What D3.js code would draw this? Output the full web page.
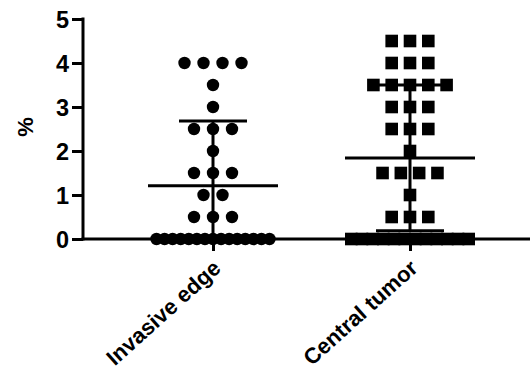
<!DOCTYPE html>
<html>
<head>
<meta charset="utf-8">
<script src="https://cdn.jsdelivr.net/npm/d3@7"></script>
<style>
  html, body { margin: 0; padding: 0; background: #fff; }
  svg { display: block; }
  text { font-family: Arial, "Liberation Sans", Helvetica, sans-serif; font-weight: bold; fill: #000; }
</style>
</head>
<body>
<svg id="chart" width="530" height="377"></svg>
<script>
// Groups along the x axis
const categories = ["Invasive edge", "Central tumor"];

// Individual measurements (%) for each group
const invasiveEdge = [
  0, 0, 0, 0, 0, 0, 0, 0, 0, 0, 0, 0, 0, 0, 0,
  0.5, 0.5, 0.5,
  1, 1,
  1.5, 1.5, 1.5,
  2,
  2.5, 2.5, 2.5,
  3,
  3.5,
  4, 4, 4, 4
];
const centralTumor = [
  0, 0, 0, 0, 0, 0, 0, 0, 0, 0, 0, 0,
  0.5, 0.5, 0.5,
  1,
  1.5, 1.5, 1.5, 1.5,
  2,
  2.5, 2.5, 2.5,
  3, 3, 3,
  3.5, 3.5, 3.5, 3.5, 3.5,
  4, 4, 4,
  4.5, 4.5, 4.5
];
const seriesValues = [invasiveEdge, centralTumor];
const symbols = ["circle", "square"];

// Axis ticks and title
const yTicks = [0, 1, 2, 3, 4, 5];
const yTitle = "%";

const svg = d3.select("#chart");

const plot = { left: 83, right: 530, top: 19, bottom: 239 };

const y = d3.scaleLinear().domain([0, 5]).range([plot.bottom, plot.top]);
const x = d3.scalePoint().domain(categories).range([213, 410]);

// Horizontal spacing of points within a row, and widest allowed row
const pointStep = [19, 18.3];
const rowHalfWidth = [56.5, 58.7];
const meanHalfWidth = 65;
const capHalfWidth = 34;

const axisStroke = 3;

// Y axis
const yAxis = svg.append("g")
  .attr("transform", `translate(${plot.left},0)`)
  .call(d3.axisLeft(y).tickValues(yTicks).tickFormat(d3.format("d")).tickSize(11).tickPadding(3));
yAxis.select(".domain").remove();
yAxis.selectAll(".tick line").attr("stroke", "#000").attr("stroke-width", axisStroke);
yAxis.selectAll(".tick text")
  .style("font-size", "23.5px")
  .style("font-family", "Arial, 'Liberation Sans', sans-serif")
  .style("font-weight", "bold")
  .attr("fill", "#000")
  .attr("dy", "0.36em");
svg.append("line")
  .attr("x1", plot.left).attr("x2", plot.left)
  .attr("y1", plot.top - 1.5).attr("y2", plot.bottom + 1.5)
  .attr("stroke", "#000").attr("stroke-width", axisStroke);

// Y title
svg.append("text")
  .attr("transform", `translate(33,127) rotate(-90)`)
  .attr("text-anchor", "middle")
  .style("font-size", "22px")
  .text(yTitle);

// X axis
const xAxis = svg.append("g")
  .attr("transform", `translate(0,${plot.bottom})`)
  .call(d3.axisBottom(x).tickSize(12).tickFormat(""));
xAxis.select(".domain").remove();
xAxis.selectAll(".tick line").attr("stroke", "#000").attr("stroke-width", axisStroke);
svg.append("line")
  .attr("x1", plot.left - 1.5).attr("x2", plot.right)
  .attr("y1", plot.bottom).attr("y2", plot.bottom)
  .attr("stroke", "#000").attr("stroke-width", axisStroke);

// Category labels, rotated
svg.selectAll(".cat-label")
  .data(categories)
  .join("text")
  .attr("class", "cat-label")
  .attr("text-anchor", "end")
  .attr("transform", d => `translate(${x(d) + 9},270) rotate(-42)`)
  .style("font-size", "22px")
  .text(d => d);

// Lay out points of each group in rows of equal value
function layout(values, gi) {
  const rows = d3.group(values, v => v);
  const pts = [];
  for (const [v, arr] of rows) {
    const n = arr.length;
    const step = n > 1 ? Math.min(pointStep[gi], (2 * rowHalfWidth[gi]) / (n - 1)) : 0;
    arr.forEach((_, i) => {
      pts.push({ value: v, dx: (i - (n - 1) / 2) * step });
    });
  }
  return pts;
}

seriesValues.forEach((values, gi) => {
  const cx = x(categories[gi]);
  const mean = d3.mean(values);
  const sd = d3.deviation(values);
  const hi = mean + sd;
  const lo = Math.max(0, mean - sd);
  const g = svg.append("g");

  // Error bar: vertical stem, caps
  g.append("line")
    .attr("x1", cx).attr("x2", cx)
    .attr("y1", y(hi)).attr("y2", y(lo))
    .attr("stroke", "#000").attr("stroke-width", axisStroke);
  g.append("line")
    .attr("x1", cx - capHalfWidth).attr("x2", cx + capHalfWidth)
    .attr("y1", y(hi)).attr("y2", y(hi))
    .attr("stroke", "#000").attr("stroke-width", axisStroke);
  if (mean - sd > 0) {
    g.append("line")
      .attr("x1", cx - capHalfWidth).attr("x2", cx + capHalfWidth)
      .attr("y1", y(lo)).attr("y2", y(lo))
      .attr("stroke", "#000").attr("stroke-width", axisStroke);
  }
  // Mean line
  g.append("line")
    .attr("x1", cx - meanHalfWidth).attr("x2", cx + meanHalfWidth)
    .attr("y1", y(mean)).attr("y2", y(mean))
    .attr("stroke", "#000").attr("stroke-width", axisStroke);

  // Points
  const pts = layout(values, gi);
  if (symbols[gi] === "circle") {
    g.selectAll("circle")
      .data(pts)
      .join("circle")
      .attr("cx", d => cx + d.dx)
      .attr("cy", d => y(d.value))
      .attr("r", 6.2)
      .attr("fill", "#000");
  } else {
    const s = 12.6;
    g.selectAll("rect")
      .data(pts)
      .join("rect")
      .attr("x", d => cx + d.dx - s / 2)
      .attr("y", d => y(d.value) - s / 2)
      .attr("width", s).attr("height", s)
      .attr("fill", "#000");
  }
});
</script>
</body>
</html>
